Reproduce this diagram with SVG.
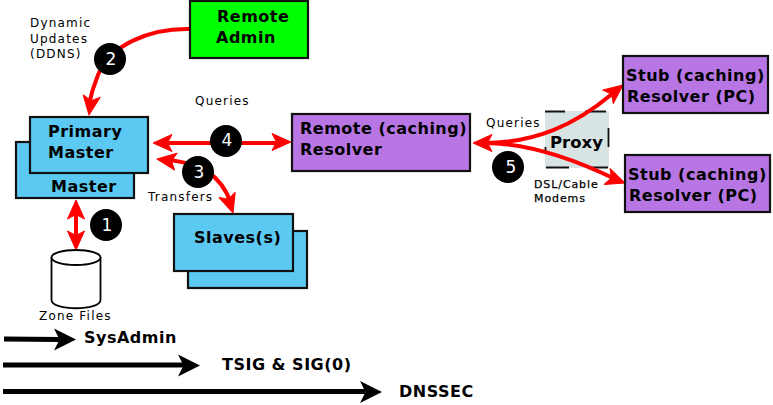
<svg xmlns="http://www.w3.org/2000/svg" width="773" height="405" viewBox="0 0 773 405">
<style>
.b{stroke:#111;stroke-width:2.2}
.blue{fill:#5bc9f2}.pur{fill:#b776e4}
text{font-family:"DejaVu Sans",sans-serif;fill:#000}
.t{font-weight:bold;font-size:16px;letter-spacing:.5px}
.s{font-size:12px;letter-spacing:1.2px}
.m{font-size:11px;letter-spacing:.9px;stroke:#000;stroke-width:.25}
.c{fill:none;stroke:#f00;stroke-width:4}
.k{fill:none;stroke:#000;stroke-width:5}
.n{fill:#fff;font-size:17px;text-anchor:middle}
</style>
<defs>
<path id="h" d="M0 0L-19-8.500-14.500 0-19 8.500Z" fill="#f00" stroke="#f00" stroke-linejoin="round"/>
<path id="hk" d="M0 0L-22-11-16.500 0-22 11Z" fill="#000"/>
</defs>
<rect width="773" height="405" fill="#fff"/>
<g id="proxy">
<rect x="545" y="111" width="64" height="57" fill="#d8e4e4"/>
<path d="M545 111.500H565M585 111.500H606M608.500 128V147M546 167.500H569M589 167.500H608M545.500 147V151" stroke="#111" stroke-width="1.800" fill="none"/>
<text class="t" x="550" y="148" style="font-size:16.500px;letter-spacing:0">Proxy</text>
</g>
<g id="connectors">
<path class="c" d="M190 29C150 28 110 45 98 75Q92 90 89 104"/>
<use href="#h" transform="translate(89 115) rotate(98)"/>
<path class="c" d="M165 143H282"/>
<use href="#h" transform="translate(153 143) rotate(180)"/>
<use href="#h" transform="translate(291 142) rotate(0)"/>
<path class="c" d="M168 160Q195 163 208 172C220 180 227 192 231 203"/>
<use href="#h" transform="translate(157 159) rotate(188)"/>
<use href="#h" transform="translate(233 213) rotate(72)"/>
<path class="c" d="M76 212V240"/>
<use href="#h" transform="translate(76 200) rotate(-90)"/>
<use href="#h" transform="translate(76 250) rotate(90)"/>
<path class="c" d="M484 143C535 143 575 125 612 94"/>
<use href="#h" transform="translate(623 85) rotate(-38)"/>
<path class="c" d="M484 143C530 143 580 162 615 179"/>
<use href="#h" transform="translate(625 183) rotate(20)"/>
<use href="#h" transform="translate(473 143) rotate(180)"/>
<path class="k" d="M4 339L60 339.500"/>
<use href="#hk" transform="translate(76 339.500)"/>
<path class="k" d="M3 365H185"/>
<use href="#hk" transform="translate(200 365.500)"/>
<path class="k" d="M3 391.500H365"/>
<use href="#hk" transform="translate(382 392)"/>
</g>
<g id="master">
<rect class="b blue" x="16" y="142" width="118" height="56"/>
<text class="t" x="51" y="192">Master</text>
</g>
<g id="primary-master">
<rect class="b blue" x="30" y="117" width="118" height="56"/>
<text class="t" x="48" y="137">Primary</text>
<text class="t" x="48" y="158">Master</text>
</g>
<g id="remote-admin">
<rect class="b" x="190" y="1" width="118" height="57" fill="#0f0"/>
<text class="t" x="217" y="22">Remote</text>
<text class="t" x="216" y="43">Admin</text>
</g>
<g id="remote-resolver">
<rect class="b pur" x="292" y="114" width="178" height="57"/>
<text class="t" x="300" y="134">Remote (caching)</text>
<text class="t" x="300" y="155">Resolver</text>
</g>
<g id="stub-1">
<rect class="b pur" x="623" y="56" width="145" height="57"/>
<text class="t" x="626" y="81">Stub (caching)</text>
<text class="t" x="627" y="102">Resolver (PC)</text>
</g>
<g id="stub-2">
<rect class="b pur" x="625" y="155" width="145" height="57"/>
<text class="t" x="628" y="180">Stub (caching)</text>
<text class="t" x="629" y="201">Resolver (PC)</text>
</g>
<g id="slaves">
<rect class="b blue" x="188" y="231" width="119" height="57"/>
<rect class="b blue" x="174" y="214" width="119" height="57"/>
<text class="t" x="194" y="243">Slaves(s)</text>
</g>
<g id="zone-files">
<path d="M51.500 257V300C51.500 311 100.500 311 100.500 300V257" fill="#fff" stroke="#000" stroke-width="1.800"/>
<ellipse cx="76" cy="257.500" rx="24.500" ry="7.500" fill="#fff" stroke="#000" stroke-width="1.800"/>
<text class="s" x="39" y="320">Zone Files</text>
</g>
<g id="badges">
<circle cx="110" cy="59" r="16"/><text class="n" x="111" y="65">2</text>
<circle cx="226" cy="141" r="16"/><text class="n" x="227" y="146">4</text>
<circle cx="198" cy="172" r="16"/><text class="n" x="199" y="178">3</text>
<circle cx="106" cy="225" r="16"/><text class="n" x="107" y="231">1</text>
<circle cx="508" cy="167" r="16"/><text class="n" x="511" y="173">5</text>
</g>
<g id="labels">
<text class="s" x="30" y="27">Dynamic</text>
<text class="s" x="30" y="43">Updates</text>
<text class="s" x="30" y="58">(DDNS)</text>
<text class="s" x="195" y="105">Queries</text>
<text class="s" x="148" y="201">Transfers</text>
<text class="s" x="486" y="127">Queries</text>
<text class="m" x="534" y="188">DSL/Cable</text>
<text class="m" x="534" y="202">Modems</text>
<text class="t" x="84" y="343">SysAdmin</text>
<text class="t" x="222" y="370">TSIG &amp; SIG(0)</text>
<text class="t" x="399" y="397">DNSSEC</text>
</g>
</svg>
